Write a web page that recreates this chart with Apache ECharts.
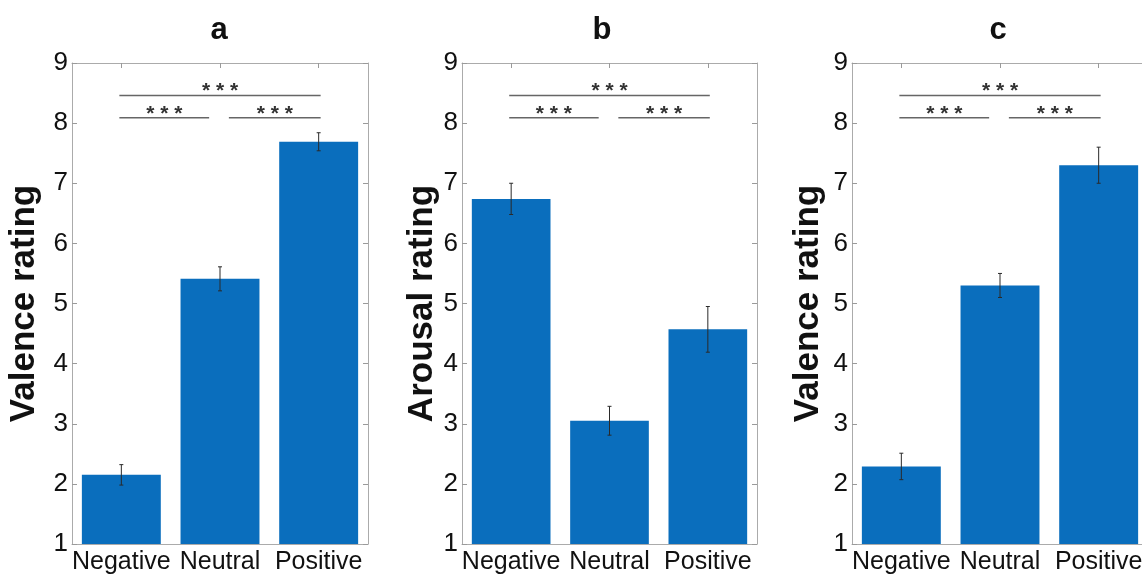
<!DOCTYPE html>
<html><head><meta charset="utf-8">
<script src="https://cdn.jsdelivr.net/npm/echarts@6/dist/echarts.min.js"></script>
<style>html,body{margin:0;padding:0;background:#fff;overflow:hidden;width:1142px;height:575px}#c{width:1160px;height:575px}</style>
</head><body><div id="c"></div>
<script>
// ---- data ----
const categories = ['Negative', 'Neutral', 'Positive'];
const panelTitles = ['a', 'b', 'c'];
const yAxisNames = ['Valence rating', 'Arousal rating', 'Valence rating'];
const yMin = 1, yMax = 9, yStep = 1;
const meansA = [2.15, 5.41, 7.69];
const errA   = [0.17, 0.20, 0.15];
const meansB = [6.74, 3.05, 4.57];
const errB   = [0.26, 0.24, 0.38];
const meansC = [2.29, 5.30, 7.30];
const errC   = [0.22, 0.20, 0.30];
const compFrom  = [0, 1, 0];
const compTo    = [1, 2, 2];
const compLevel = [8.09, 8.09, 8.46];
const compLabel = ['* * *', '* * *', '* * *'];

// ---- layout / style ----
const FONT = 'Liberation Sans, Arial, sans-serif';
const panels = [
  {means: meansA, errs: errA, left: 72,  width: 296, titleX: 219, nameGap: 30},
  {means: meansB, errs: errB, left: 462, width: 295, titleX: 602, nameGap: 22},
  {means: meansC, errs: errC, left: 852, width: 296, titleX: 998, nameGap: 26}
];
const TOP = 63, HEIGHT = 482;
const BAR = '#0A6EBD', AXIS = '#ABABAB', TICK = '#9A9A9A';

const grid = [], xAxis = [], yAxis = [], series = [], title = [];
panels.forEach((p, i) => {
  grid.push({left: p.left, top: TOP, width: p.width, height: HEIGHT, containLabel: false});
  title.push({text: panelTitles[i], left: p.titleX, top: 15, textAlign: 'center', padding: 0,
    textStyle: {fontFamily: FONT, fontSize: 31, fontWeight: 'bold', color: '#111'}});
  const tick = {show: true, inside: true, length: 5, alignWithLabel: true, lineStyle: {color: TICK}};
  // bottom category axis
  xAxis.push({type: 'category', gridIndex: i, position: 'bottom', data: categories,
    axisLine: {onZero: false, lineStyle: {color: AXIS, width: 1}}, axisTick: tick,
    axisLabel: {interval: 0, fontFamily: FONT, fontSize: 25, color: '#111', margin: 6, hideOverlap: false},
    splitLine: {show: false}});
  // top category axis (box)
  xAxis.push({type: 'category', gridIndex: i, position: 'top', data: categories,
    axisLine: {show: true, onZero: false, lineStyle: {color: AXIS, width: 1}}, axisTick: tick,
    axisLabel: {show: false}, splitLine: {show: false}});
  // hidden value axis for annotation positions
  xAxis.push({type: 'value', gridIndex: i, min: -0.5, max: 2.5, show: false,
    axisLine: {onZero: false}});
  const ytick = {show: true, inside: true, length: 5, lineStyle: {color: TICK}};
  yAxis.push({type: 'value', gridIndex: i, position: 'left', min: yMin, max: yMax, interval: yStep,
    axisLine: {show: true, onZero: false, lineStyle: {color: AXIS, width: 1}}, axisTick: ytick,
    axisLabel: {fontFamily: FONT, fontSize: 26, color: '#111', margin: 4},
    splitLine: {show: false},
    name: yAxisNames[i], nameLocation: 'middle', nameGap: p.nameGap, nameRotate: 90,
    nameTextStyle: {fontFamily: FONT, fontSize: 35, fontWeight: 'bold', color: '#111'}});
  yAxis.push({type: 'value', gridIndex: i, position: 'right', min: yMin, max: yMax, interval: yStep,
    axisLine: {show: true, onZero: false, lineStyle: {color: AXIS, width: 1}}, axisTick: ytick,
    axisLabel: {show: false}, splitLine: {show: false}});

  series.push({type: 'bar', xAxisIndex: 3 * i, yAxisIndex: 2 * i, data: p.means,
    barCategoryGap: '20%', itemStyle: {color: BAR}, silent: true});

  series.push({type: 'custom', xAxisIndex: 3 * i, yAxisIndex: 2 * i,
    data: p.means.map((m, k) => [k, m, p.errs[k]]), z: 5, silent: true,
    renderItem: (params, api) => {
      const k = api.value(0), m = api.value(1), e = api.value(2);
      const top = api.coord([k, m + e]), bot = api.coord([k, m - e]);
      const st = {stroke: '#2a2a2a', lineWidth: 1};
      return {type: 'group', children: [
        {type: 'line', shape: {x1: top[0], y1: top[1], x2: bot[0], y2: bot[1]}, style: st},
        {type: 'line', shape: {x1: top[0] - 2, y1: top[1], x2: top[0] + 2, y2: top[1]}, style: st},
        {type: 'line', shape: {x1: bot[0] - 2, y1: bot[1], x2: bot[0] + 2, y2: bot[1]}, style: st}
      ]};
    }});

  const last = categories.length - 1;
  series.push({type: 'custom', xAxisIndex: 3 * i + 2, yAxisIndex: 2 * i, z: 6, silent: true,
    data: compFrom.map((f, k) => [f, compTo[k], compLevel[k]]),
    renderItem: (params, api) => {
      const f = api.value(0), t = api.value(1), y = api.value(2);
      const x1 = f === 0 ? f - 0.02 : f + 0.09;
      const x2 = t === last ? t + 0.02 : t - 0.11;
      const a = api.coord([x1, y]), b = api.coord([x2, y]);
      return {type: 'group', children: [
        {type: 'line', shape: {x1: a[0], y1: a[1], x2: b[0], y2: b[1]},
          style: {stroke: '#666', lineWidth: 1.6}},
        {type: 'text', x: (a[0] + b[0]) / 2, y: a[1] - 4,
          style: {text: compLabel[params.dataIndex], fill: '#333', font: 'bold 21px ' + FONT,
            align: 'center', verticalAlign: 'middle'}}
      ]};
    }});
});

const chart = echarts.init(document.getElementById('c'), null, {renderer: 'canvas'});
chart.setOption({animation: false, backgroundColor: '#fff', title, grid, xAxis, yAxis, series,
  tooltip: {show: false}});
</script>
</body></html>
